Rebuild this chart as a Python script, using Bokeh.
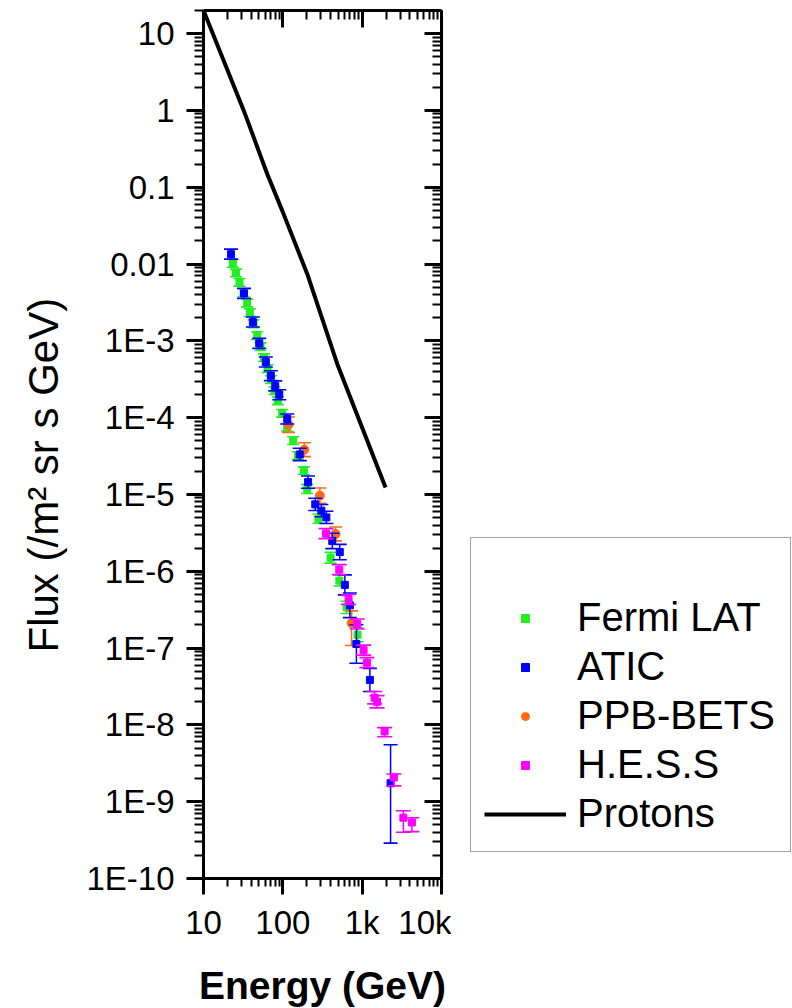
from bokeh.plotting import figure
from bokeh.layouts import row
from bokeh.models import (Range1d, FixedTicker, LogAxis, Legend, LegendItem, Title,
                          CustomJSTickFormatter)
from bokeh.embed import file_html
from bokeh.resources import INLINE

# ---------------- data ----------------
fermi_E = [23.4, 25.6, 28.4, 32.0, 35.6, 38.4, 42.7, 47.6, 52.3, 57.9, 64.2, 71.0, 78.6,
           86.5, 98.3, 113.6, 135.2, 155.5, 184.0, 203.1, 281.8, 399.6, 515.8, 635.6, 875.0]
fermi_F = [1.02e-2, 7.66e-3, 5.78e-3, 4.25e-3, 3.11e-3, 2.33e-3, 1.67e-3, 1.17e-3, 8.40e-4,
           6.04e-4, 4.35e-4, 3.13e-4, 2.25e-4, 1.66e-4, 1.14e-4, 7.48e-5, 5.02e-5, 3.20e-5,
           2.04e-5, 1.18e-5, 4.84e-6, 1.50e-6, 7.55e-7, 3.39e-7, 1.49e-7]
fermi_elo = [0.05, 0.05, 0.05, 0.05, 0.05, 0.05, 0.05, 0.05, 0.05, 0.05, 0.05, 0.05, 0.05,
             0.05, 0.05, 0.05, 0.05, 0.05, 0.05, 0.06, 0.06, 0.07, 0.07, 0.08, 0.09]
fermi_ehi = [0.05, 0.05, 0.05, 0.05, 0.05, 0.05, 0.05, 0.05, 0.05, 0.05, 0.05, 0.05, 0.05,
             0.05, 0.05, 0.05, 0.05, 0.05, 0.05, 0.06, 0.06, 0.07, 0.07, 0.08, 0.09]

atic_E = [22.2, 32.4, 41.9, 50.4, 61.0, 70.6, 80.2, 90.1, 113.6, 163.4, 207.9, 256.3, 306.0,
          353.8, 419.8, 522.0, 605.0, 699.8, 845.5, 1251.0, 2281.0]
atic_F = [1.345e-2, 4.15e-3, 1.76e-3, 9.27e-4, 5.31e-4, 3.52e-4, 2.59e-4, 1.99e-4, 9.62e-5,
          3.32e-5, 1.45e-5, 7.43e-6, 6.15e-6, 5.03e-6, 2.48e-6, 1.78e-6, 6.65e-7, 3.60e-7,
          1.13e-7, 3.85e-8, 1.74e-9]
atic_elo = [0.065, 0.065, 0.065, 0.065, 0.065, 0.065, 0.065, 0.065, 0.065, 0.08, 0.08, 0.08,
            0.08, 0.08, 0.10, 0.10, 0.13, 0.16, 0.25, 0.15, 0.78]
atic_ehi = [0.065, 0.065, 0.065, 0.065, 0.065, 0.065, 0.065, 0.065, 0.065, 0.08, 0.08, 0.08,
            0.08, 0.08, 0.10, 0.10, 0.13, 0.16, 0.25, 0.15, 0.50]

ppb_E = [118.0, 186.7, 292.9, 461.9, 734.9]
ppb_F = [8.11e-5, 3.83e-5, 9.64e-6, 3.06e-6, 2.11e-7]
ppb_elo = [0.10, 0.09, 0.10, 0.09, 0.29]
ppb_ehi = [0.10, 0.09, 0.10, 0.09, 0.16]

hess_E = [350.6, 514.3, 673.9, 867.7, 1042.0, 1147.0, 1434.0, 1541.0, 1917.0, 2511.0, 3308.0, 4233.0]
hess_F = [3.09e-6, 1.05e-6, 4.30e-7, 2.06e-7, 9.40e-8, 6.46e-8, 2.26e-8, 2.00e-8, 8.22e-9,
          2.07e-9, 6.19e-10, 5.37e-10]
hess_elo = [0.065, 0.065, 0.065, 0.065, 0.065, 0.065, 0.08, 0.08, 0.07, 0.11, 0.19, 0.12]
hess_ehi = [0.065, 0.065, 0.065, 0.065, 0.065, 0.065, 0.08, 0.08, 0.05, 0.045, 0.09, 0.06]

proton_E = [10.0, 32.2, 63.6, 98.3, 203.1, 485.3, 1972.0]
proton_F = [20.0, 0.994, 0.149, 0.0496, 7.43e-3, 5.0e-4, 1.23e-5]

series_names = ["Fermi LAT", "ATIC", "PPB-BETS", "H.E.S.S", "Protons"]

x_ticks = [10, 100, 1000, 10000]
x_tick_labels = ["10", "100", "1k", "10k"]
y_ticks = [1e-10, 1e-9, 1e-8, 1e-7, 1e-6, 1e-5, 1e-4, 1e-3, 1e-2, 1e-1, 1, 10]
y_tick_labels = ["1E-10", "1E-9", "1E-8", "1E-7", "1E-6", "1E-5", "1E-4", "1E-3",
                 "0.01", "0.1", "1", "10"]

C_FERMI = "#22ee22"
C_ATIC = "#0000ff"
C_PPB = "#ff6a10"
C_HESS = "#ff00ff"
FONT = "Liberation Sans"


def minors(majors, top):
    out = []
    for m in majors:
        for k in range(2, 10):
            if m * k <= top:
                out.append(m * k)
    return out


x_minor = minors(x_ticks, 10000)
y_minor = minors(y_ticks, 20)

p = figure(x_axis_type="log", y_axis_type="log",
           x_range=Range1d(10, 10000), y_range=Range1d(1e-10, 20),
           frame_width=238, frame_height=868,
           min_border_left=203, min_border_right=10, min_border_top=10, min_border_bottom=130,
           output_backend="svg", toolbar_location=None,
           background_fill_color="white", border_fill_color="white")
p.grid.visible = False
p.outline_line_color = None


def style_axis(ax, ticks, minor, tick_in, tick_out, minor_in, minor_out):
    ax.ticker = FixedTicker(ticks=ticks, minor_ticks=minor)
    ax.axis_line_width = 3
    ax.axis_line_color = "black"
    ax.major_tick_line_width = 3
    ax.minor_tick_line_width = 2
    ax.major_tick_line_color = "black"
    ax.minor_tick_line_color = "black"
    ax.major_tick_in = tick_in
    ax.major_tick_out = tick_out
    ax.minor_tick_in = minor_in
    ax.minor_tick_out = minor_out
    ax.major_label_text_font = FONT
    ax.major_label_text_font_size = "33px"
    ax.major_label_text_color = "black"


xb = p.xaxis[0]
yl = p.yaxis[0]
style_axis(xb, x_ticks, x_minor, 0, 16, 0, 8)
style_axis(yl, y_ticks, y_minor, 0, 17, 0, 9)
xb.major_label_overrides = {t: l for t, l in zip(x_ticks, x_tick_labels)}
yl.major_label_overrides = {t: l for t, l in zip(y_ticks, y_tick_labels)}
xb.major_label_standoff = 9
yl.major_label_standoff = 12
xb.axis_label = "Energy (GeV)"
xb.axis_label_text_font = FONT
xb.axis_label_text_font_style = "bold"
xb.axis_label_text_font_size = "39px"
xb.axis_label_text_color = "black"
xb.axis_label_standoff = 20

blank = CustomJSTickFormatter(code="return '';")

xt = LogAxis()
style_axis(xt, x_ticks, x_minor, 17, 0, 9, 0)
xt.formatter = blank
xt.major_label_standoff = 0
p.add_layout(xt, "above")

yr = LogAxis()
style_axis(yr, y_ticks, y_minor, 17, 0, 9, 0)
yr.formatter = blank
yr.major_label_standoff = 0
p.add_layout(yr, "right")

ytitle = Title(text="Flux (/m² sr s GeV)", align="left", offset=226, standoff=33,
               vertical_align="bottom", text_font=FONT, text_font_size="42px",
               text_font_style="normal", text_color="black")
p.add_layout(ytitle, "left")


def series(E, F, elo, ehi, color, marker, size, cap):
    lo = [f * 10 ** (-d) for f, d in zip(F, elo)]
    hi = [f * 10 ** d for f, d in zip(F, ehi)]
    p.segment(x0=E, y0=lo, x1=E, y1=hi, line_color=color, line_width=1.5)
    p.scatter(x=E, y=lo, marker="dash", size=cap, line_color=color, line_width=1.6)
    p.scatter(x=E, y=hi, marker="dash", size=cap, line_color=color, line_width=1.6)
    return p.scatter(x=E, y=F, marker=marker, size=size, fill_color=color, line_color=color)


series(fermi_E, fermi_F, fermi_elo, fermi_ehi, C_FERMI, "square", 7, 12)
series(ppb_E, ppb_F, ppb_elo, ppb_ehi, C_PPB, "circle", 9, 13)
series(atic_E, atic_F, atic_elo, atic_ehi, C_ATIC, "square", 7, 14)
series(hess_E, hess_F, hess_elo, hess_ehi, C_HESS, "square", 7, 15)
p.line(proton_E, proton_F, line_color="black", line_width=4)

# ---------------- legend panel (right of the plot) ----------------
q = figure(width=341, height=1008, x_axis_type="log", y_axis_type="log",
           x_range=Range1d(10, 10000), y_range=Range1d(1e-10, 20),
           min_border=0, x_axis_location=None, y_axis_location=None,
           output_backend="svg", toolbar_location=None,
           background_fill_color="white", border_fill_color="white")
q.grid.visible = False
q.outline_line_color = None

# hidden copies of each series: they only give the legend its glyphs
k_fermi = q.scatter(x=fermi_E, y=fermi_F, marker="square", size=7,
                    fill_color=C_FERMI, line_color=C_FERMI, visible=False)
k_atic = q.scatter(x=atic_E, y=atic_F, marker="square", size=7,
                   fill_color=C_ATIC, line_color=C_ATIC, visible=False)
k_ppb = q.scatter(x=ppb_E, y=ppb_F, marker="circle", size=9,
                  fill_color=C_PPB, line_color=C_PPB, visible=False)
k_hess = q.scatter(x=hess_E, y=hess_F, marker="square", size=7,
                   fill_color=C_HESS, line_color=C_HESS, visible=False)
k_prot = q.line(x=proton_E, y=proton_F, line_color="black", line_width=4, visible=False)

legend = Legend(items=[LegendItem(label=n, renderers=[r]) for n, r in
                       zip(series_names, [k_fermi, k_atic, k_ppb, k_hess, k_prot])],
                location=(19, 25))
legend.title = " "
legend.title_text_font_size = "30px"
legend.title_standoff = 8
legend.border_line_color = "#444444"
legend.border_line_width = 1.5
legend.background_fill_color = "white"
legend.background_fill_alpha = 1.0
legend.padding = 13
legend.spacing = 0
legend.margin = 0
legend.label_text_font = FONT
legend.label_text_font_size = "40px"
legend.label_text_color = "black"
legend.label_height = 49
legend.glyph_height = 20
legend.glyph_width = 82
legend.label_standoff = 11
legend.label_width = 200
q.add_layout(legend)

layout = row(p, q, spacing=0)
open("out.html", "w").write(file_html(layout, INLINE))
